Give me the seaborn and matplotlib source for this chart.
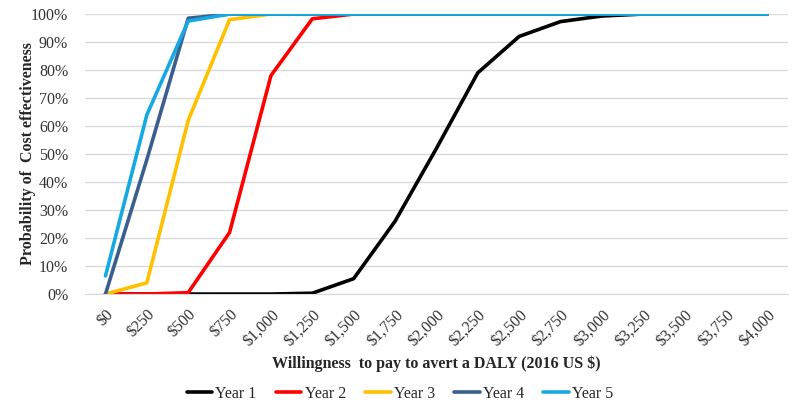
import pandas as pd
import seaborn as sns
import matplotlib.pyplot as plt
from matplotlib.ticker import PercentFormatter

# willingness to pay thresholds (2016 US $)
wtp = [0, 250, 500, 750, 1000, 1250, 1500, 1750, 2000, 2250, 2500, 2750, 3000, 3250, 3500, 3750, 4000]
wtp_labels = ["$0", "$250", "$500", "$750", "$1,000", "$1,250", "$1,500", "$1,750", "$2,000",
              "$2,250", "$2,500", "$2,750", "$3,000", "$3,250", "$3,500", "$3,750", "$4,000"]

year1 = [0, 0, 0, 0, 0, 0.3, 5.5, 26, 52, 79, 92, 97.3, 99.3, 100, 100, 100, 100]
year2 = [0, 0, 0.5, 22, 78, 98.3, 100, 100, 100, 100, 100, 100, 100, 100, 100, 100, 100]
year3 = [0, 4, 62, 98, 100, 100, 100, 100, 100, 100, 100, 100, 100, 100, 100, 100, 100]
year4 = [0, 48, 98.5, 100, 100, 100, 100, 100, 100, 100, 100, 100, 100, 100, 100, 100, 100]
year5 = [6.5, 64, 97.5, 100, 100, 100, 100, 100, 100, 100, 100, 100, 100, 100, 100, 100, 100]

series_names = ["Year 1", "Year 2", "Year 3", "Year 4", "Year 5"]
colors = ["#000000", "#FF0000", "#FFC000", "#3A5F8F", "#14A9E3"]

df = pd.concat([
    pd.DataFrame({"wtp": wtp, "prob": vals, "series": name})
    for name, vals in zip(series_names, [year1, year2, year3, year4, year5])
])

sns.set_style("white")
plt.rcParams["font.family"] = ["Liberation Serif", "DejaVu Serif"]

fig = plt.figure(figsize=(8, 4.13), dpi=100)
ax = fig.add_axes([0.106, 0.288, 0.879, 0.678])

sns.lineplot(data=df, x="wtp", y="prob", hue="series", palette=colors,
             linewidth=2.6, ax=ax, legend=True)

ax.set_xlim(-125, 4125)
ax.set_ylim(0, 100)
ax.set_xticks(wtp)
ax.set_xticklabels(wtp_labels, rotation=45, ha="right", rotation_mode="anchor",
                   fontsize=11.5, color="#333333")
ax.set_yticks(range(0, 101, 10))
ax.yaxis.set_major_formatter(PercentFormatter(decimals=0))
ax.tick_params(axis="y", labelsize=11.5, labelcolor="#333333", length=0, pad=12)
ax.tick_params(axis="x", length=0, pad=9)

ax.grid(axis="y", color="#D9D9D9", linewidth=1)
ax.set_axisbelow(True)
for s in ["top", "right", "left"]:
    ax.spines[s].set_visible(False)
ax.spines["bottom"].set_color("#D9D9D9")

ax.set_xlabel("Willingness  to pay to avert a DALY (2016 US $)", fontsize=11.5, weight="bold")
ax.xaxis.set_label_coords(0.5, -0.218)
ax.set_ylabel("Probability of  Cost effectiveness", fontsize=11.5, weight="bold")
ax.yaxis.set_label_coords(-0.07, 0.5)

handles, labels = ax.get_legend_handles_labels()
ax.legend(handles, labels, loc="center", bbox_to_anchor=(0.5, 0.047),
          bbox_transform=fig.transFigure, ncol=5, frameon=False, fontsize=11.5,
          handlelength=1.6, handletextpad=0.2, columnspacing=1.2)

fig.savefig("out.png", dpi=100)
